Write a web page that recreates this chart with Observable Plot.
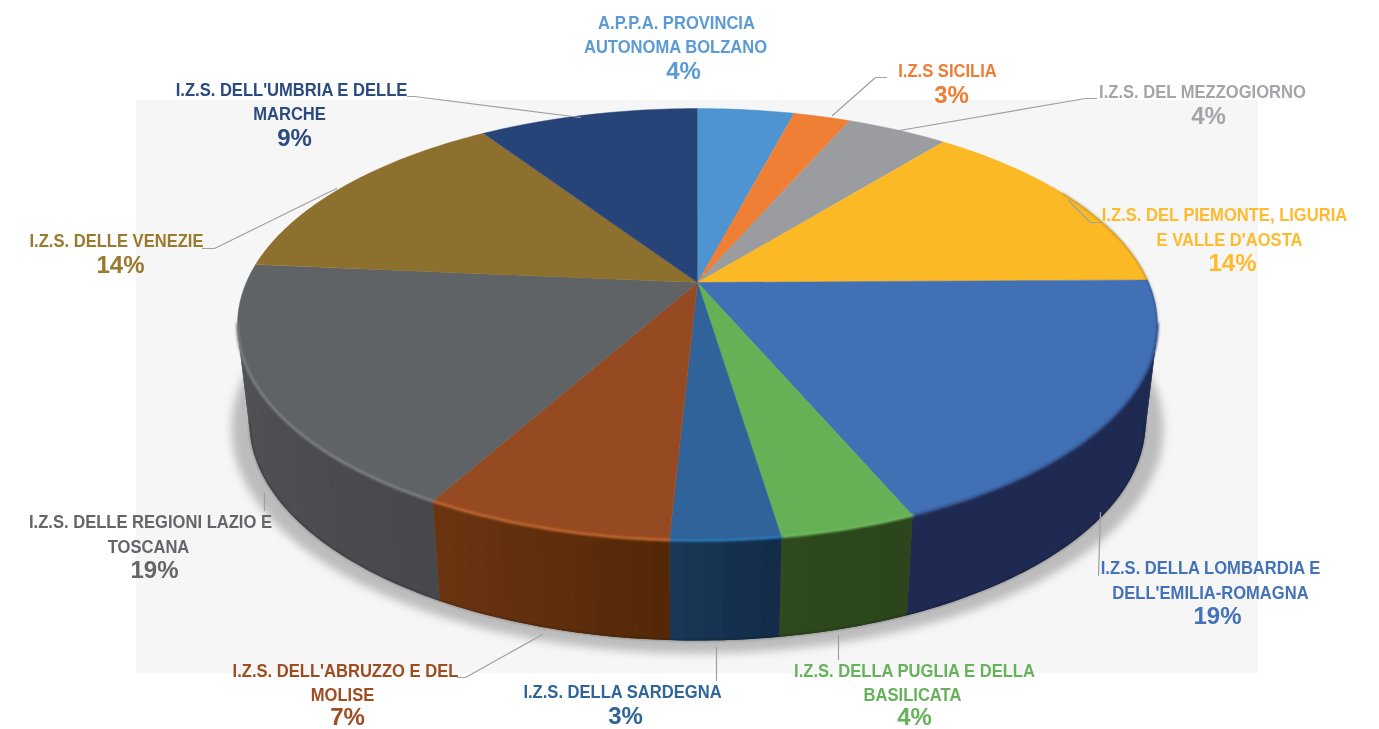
<!DOCTYPE html>
<html>
<head>
<meta charset="utf-8">
<script src="https://cdn.jsdelivr.net/npm/d3@7"></script>
<script src="https://cdn.jsdelivr.net/npm/@observablehq/plot@0.6"></script>
<style>
  html, body { margin: 0; padding: 0; background: #fff; }
  svg { display: block; }
  .soft-shadow { filter: blur(4px); }
  .soft-rim { filter: blur(0.8px); }
  .soft-edge { filter: blur(1px); }
  .soft-text { filter: blur(0.25px); }
</style>
</head>
<body>
<div id="chart"></div>
<script>
const categories = ["A.P.P.A. PROVINCIA AUTONOMA BOLZANO","I.Z.S SICILIA","I.Z.S. DEL MEZZOGIORNO","I.Z.S. DEL PIEMONTE, LIGURIA E VALLE D'AOSTA","I.Z.S. DELLA LOMBARDIA E DELL'EMILIA-ROMAGNA","I.Z.S. DELLA PUGLIA E DELLA BASILICATA","I.Z.S. DELLA SARDEGNA","I.Z.S. DELL'ABRUZZO E DEL MOLISE","I.Z.S. DELLE REGIONI LAZIO E TOSCANA","I.Z.S. DELLE VENEZIE","I.Z.S. DELL'UMBRIA E DELLE MARCHE"];
const values = [4.1, 2.4, 4.3, 14.0, 18.8, 4.0, 3.2, 7.3, 18.3, 14.3, 9.3];
const printedPercent = ["4%","3%","4%","14%","19%","4%","3%","7%","19%","14%","9%"];
const topColors = ["#4d94d0","#ee7f35","#9a9c9f","#fbb925","#4270b5","#66b155","#2f6399","#964a21","#5f6366","#8e702e","#264478"];
const wallLeft = ["#333","#333","#333","#333","#1f2a52","#2e4a1e","#1a3858","#6e3512","#525357","#333","#333"];
const wallRight = ["#333","#333","#333","#333","#1f2a52","#2c451c","#122b48","#532707","#47484c","#333","#333"];
const rimColors = ["#4d94d0","#ee7f35","#9a9c9f","#fbb925","#34548f","#6cb85a","#2a78b8","#c4692f","#7f8184","#8e702e","#264478"];
const textColors = ["#5b9bd5","#ee7d34","#a3a5a8","#fdbb2d","#4472b8","#66b25a","#2f6599","#9e4d20","#636669","#997a2e","#2a4a80"];

// Label layout: [slice index, text, centre x, centre y]; null text = the printed percent
const labelRows = [
  [0,"A.P.P.A. PROVINCIA",676,22],[0,"AUTONOMA BOLZANO",675,46],[0,null,683,71],
  [1,"I.Z.S SICILIA",947,70],[1,null,951,95],
  [2,"I.Z.S. DEL MEZZOGIORNO",1202,91],[2,null,1208,116],
  [3,"I.Z.S. DEL PIEMONTE, LIGURIA",1224,214],[3,"E VALLE D'AOSTA",1229,239],[3,null,1232,263],
  [4,"I.Z.S. DELLA LOMBARDIA E",1210,567],[4,"DELL'EMILIA-ROMAGNA",1210,592],[4,null,1217,616],
  [5,"I.Z.S. DELLA PUGLIA E DELLA",914,670],[5,"BASILICATA",912,694],[5,null,914,717],
  [6,"I.Z.S. DELLA SARDEGNA",622,691],[6,null,625,716],
  [7,"I.Z.S. DELL'ABRUZZO E DEL",345,670],[7,"MOLISE",342,694],[7,null,347,717],
  [8,"I.Z.S. DELLE REGIONI LAZIO E",150,521],[8,"TOSCANA",148,546],[8,null,154,570],
  [9,"I.Z.S. DELLE VENEZIE",116,240],[9,null,120,265],
  [10,"I.Z.S. DELL'UMBRIA E DELLE",291,89],[10,"MARCHE",289,113],[10,null,294,138]
];
const leaderPaths = [
  [[886,77],[875,77],[832,115]],
  [[1096,98],[1085,98],[899,130]],
  [[1100,222],[1090,222],[1068,200]],
  [[1098,575],[1100,512]],
  [[838,659],[838,635]],
  [[716,680],[716,647]],
  [[457,677],[465,677],[542,634]],
  [[264,510],[264,492]],
  [[202,248],[214,248],[336,188]],
  [[407,96],[414,96],[580,117]]
];
const panel = [{x1:136, x2:1258, y1:100, y2:673}];

// Perspective disc: the hub sits above the centre of the rim ellipse
const topDisc = {cx:697, cy:324, rx:460, ry:216};
const baseDisc = {cx:697, cy:422, rx:448, ry:218};
const tilt = -42 / 216;
function project(disc, deg, r = 1) {
  const a = deg * Math.PI / 180, u = Math.sin(a) * r, v = -Math.cos(a) * r, den = 1 + tilt * v;
  return {
    x: disc.cx + disc.rx * Math.sqrt(1 - tilt * tilt) * u / den,
    y: disc.cy + disc.ry * (v + tilt) / den
  };
}
const sweep = (a, b, step = 1) => { const s = d3.range(a, b, step); s.push(b); return s; };

const totals = d3.cumsum(values), sum = totals[totals.length - 1];
const slices = categories.map((name, i) => ({
  i, name,
  a0: (i ? totals[i - 1] : 0) / sum * 360,
  a1: totals[i] / sum * 360
}));

// Wall is visible only between the two silhouette tangents
const wallFrom = 101, wallTo = 259;
const topFaces = slices.flatMap(s => {
  const id = "top" + s.i;
  return [{id, ...project(topDisc, 0, 0), color: topColors[s.i]},
    ...sweep(s.a0, s.a1).map(d => ({id, ...project(topDisc, d), color: topColors[s.i]}))];
});
const wallBases = [], wallStrips = [], rimPts = [], baseEdge = [];
slices.forEach(s => {
  const a = Math.max(s.a0, wallFrom), b = Math.min(s.a1, wallTo);
  if (b <= a) return;
  const mid = d3.interpolateRgb(wallLeft[s.i], wallRight[s.i])(0.5);
  sweep(a, b).forEach(d => wallBases.push({id: "m" + s.i, ...project(topDisc, d), color: mid}));
  sweep(a, b).reverse().forEach(d => wallBases.push({id: "m" + s.i, ...project(baseDisc, d), color: mid}));
  const cuts = sweep(a, b, 2);
  cuts.slice(0, -1).forEach((d, k) => {
    const e = cuts[k + 1], id = `w${s.i}-${k}`;
    const color = d3.interpolateRgb(wallLeft[s.i], wallRight[s.i])(1 - (k + .5) / (cuts.length - 1));
    [project(topDisc, d), project(topDisc, e), project(baseDisc, e), project(baseDisc, d)]
      .forEach(p => wallStrips.push({id, ...p, color}));
  });
  sweep(a, b).forEach(d => {
    rimPts.push({id: "r" + s.i, ...project(topDisc, d), color: rimColors[s.i]});
    baseEdge.push({id: "b" + s.i, ...project(baseDisc, d)});
  });
});
const darkRim = sweep(62, 101).map(d => project(topDisc, d));
const shadow = sweep(0, 360).map(d => {
  const a = d * Math.PI / 180;
  return {x: 697 + 466 * Math.sin(a), y: 428 - 225 * Math.cos(a)};
});
const leaders = leaderPaths.flatMap((p, id) => p.map(([x, y]) => ({id, x, y})));
const labels = labelRows.map(([i, text, x, y]) => ({
  x, y, color: textColors[i], pct: text === null, text: text === null ? printedPercent[i] : text
}));

const chart = Plot.plot({
  width: 1379, height: 729,
  margin: 0,
  x: {domain: [0, 1379], range: [0, 1379], axis: null},
  y: {domain: [0, 729], range: [0, 729], axis: null},
  color: {type: "identity"},
  style: {background: "transparent"},
  marks: [
    Plot.rectY(panel, {x1: "x1", x2: "x2", y1: "y1", y2: "y2", fill: "#f6f6f6"}),
    Plot.line(shadow, {x: "x", y: "y", fill: "#bcbcbc", stroke: "none", className: "soft-shadow"}),
    Plot.line(wallBases, {x: "x", y: "y", z: "id", fill: "color", stroke: "none"}),
    Plot.line(wallStrips, {x: "x", y: "y", z: "id", fill: "color", stroke: "none"}),
    Plot.line(baseEdge, {x: "x", y: "y", z: "id", stroke: "#000", strokeOpacity: 0.3, strokeWidth: 1.5, className: "soft-edge"}),
    Plot.line(topFaces, {x: "x", y: "y", z: "id", fill: "color", stroke: "color", strokeWidth: 0.4}),
    Plot.line(darkRim, {x: "x", y: "y", stroke: "#000", strokeOpacity: 0.35, strokeWidth: 1.2, className: "soft-edge"}),
    Plot.line(rimPts, {x: "x", y: "y", z: "id", stroke: "color", strokeWidth: 2.6, className: "soft-rim"}),
    Plot.line(leaders, {x: "x", y: "y", z: "id", stroke: "#a0a0a0", strokeWidth: 1.2}),
    Plot.text(labels.filter(d => !d.pct), {x: "x", y: "y", text: "text", fill: "color", textAnchor: "middle", lineAnchor: "middle",
      fontFamily: "'Liberation Sans',Arial,sans-serif", fontWeight: "bold", fontSize: 19, className: "soft-text condensed"}),
    Plot.text(labels.filter(d => d.pct), {x: "x", y: "y", text: "text", fill: "color", textAnchor: "middle", lineAnchor: "middle",
      fontFamily: "'Liberation Sans',Arial,sans-serif", fontWeight: "bold", fontSize: 24, className: "soft-text"})
  ]
});
document.getElementById("chart").appendChild(chart);
// The reference's names are set in a condensed bold cut
chart.querySelectorAll(".condensed text").forEach(t => {
  t.setAttribute("textLength", t.getComputedTextLength() * 0.872);
  t.setAttribute("lengthAdjust", "spacingAndGlyphs");
});
</script>
</body>
</html>
